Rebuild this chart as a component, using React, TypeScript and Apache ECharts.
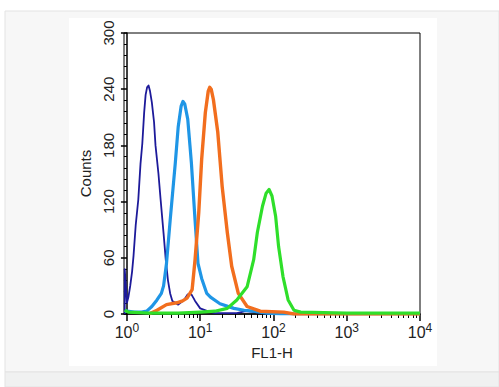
import React, { useEffect, useRef } from "react";
import * as echarts from "echarts";

// x values are log10(FL1-H), y values are counts
const navySeries: number[][] = [
  [-0.03, 0], [-0.03, 48], [-0.015, 30], [0.0, 12], [0.02, 18], [0.045, 30], [0.07, 45],
  [0.09, 62], [0.12, 95], [0.155, 122], [0.185, 160], [0.21, 182], [0.235, 215], [0.255, 234],
  [0.275, 242], [0.295, 244], [0.315, 238], [0.34, 226], [0.37, 205], [0.39, 180],
  [0.43, 150], [0.46, 122], [0.5, 86], [0.53, 58], [0.56, 36], [0.59, 22], [0.62, 14],
  [0.7, 10], [0.78, 15], [0.83, 21], [0.88, 21], [0.93, 14], [1.0, 6], [1.1, 3], [1.2, 1],
  [1.5, 1], [1.62, 3], [1.75, 2], [1.85, 1], [2.0, 0], [4.0, 0],
];
const lightBlueSeries: number[][] = [
  [-0.03, 4], [0.0, 3], [0.1, 2], [0.2, 2], [0.27, 3], [0.34, 8], [0.41, 15], [0.47, 22],
  [0.5, 30], [0.54, 54], [0.59, 100], [0.63, 135], [0.66, 161], [0.7, 200], [0.74, 222],
  [0.765, 227], [0.79, 224], [0.83, 208], [0.86, 180], [0.88, 161], [0.93, 100],
  [0.97, 54], [1.02, 38], [1.09, 22], [1.14, 18], [1.27, 11], [1.46, 6], [1.6, 4],
  [1.73, 3], [1.91, 1], [2.1, 0], [4.0, 0],
];
const orangeSeries: number[][] = [
  [0.3, 0], [0.41, 4], [0.54, 10], [0.68, 12], [0.76, 14], [0.82, 17], [0.89, 26],
  [0.93, 58], [0.98, 108], [1.02, 165], [1.07, 215], [1.11, 238], [1.13, 242], [1.15, 240],
  [1.18, 229], [1.24, 194], [1.3, 136], [1.37, 87], [1.43, 51], [1.52, 22], [1.64, 8],
  [1.82, 3], [2.14, 2], [2.28, 0], [4.0, 0],
];
const greenSeries: number[][] = [
  [-0.03, 4], [0.02, 2], [0.3, 1], [0.7, 1], [1.0, 2], [1.2, 3], [1.37, 6], [1.5, 15],
  [1.64, 29], [1.73, 58], [1.78, 87], [1.85, 115], [1.9, 129], [1.94, 133], [1.98, 126],
  [2.03, 104], [2.07, 72], [2.13, 40], [2.2, 15], [2.28, 4], [2.37, 2], [3.0, 1], [4.0, 1],
];

const xMajorTicks = [0, 1, 2, 3, 4];
const yTicks = [0, 60, 120, 180, 240, 300];

const xMinorTicks: number[] = [];
xMajorTicks.slice(0, -1).forEach((d) => {
  for (let k = 2; k <= 9; k++) xMinorTicks.push(d + Math.log10(k));
});

export default function App() {
  const ref = useRef<HTMLDivElement>(null);
  useEffect(() => {
    document.body.style.margin = "0";
    const chart = echarts.init(ref.current!, null, { renderer: "svg" });
    const font = "'Liberation Sans', Arial, sans-serif";
    const lineSeries = (name: string, data: number[][], color: string, width: number) => ({
      name,
      type: "line",
      data,
      symbol: "none",
      lineStyle: { color, width, join: "round" },
      z: 3,
    });
    chart.setOption({
      animation: false,
      textStyle: { fontFamily: font },
      graphic: [
        { type: "rect", z: -10, shape: { x: 0, y: 0, width: 499, height: 387 }, style: { fill: "#ffffff" } },
        { type: "rect", z: -9, shape: { x: 5, y: 11, width: 494, height: 361 }, style: { fill: "#f7f7f7", stroke: "#e3e3e3", lineWidth: 1 } },
        { type: "rect", z: -9, shape: { x: 5, y: 372, width: 494, height: 15 }, style: { fill: "#f0f1f1", stroke: "#e3e3e3", lineWidth: 1 } },
        { type: "rect", z: -8, shape: { x: 69, y: 18, width: 368, height: 348 }, style: { fill: "#ffffff" } },
      ],
      grid: {
        left: 124,
        right: 79,
        top: 33,
        bottom: 73,
        show: true,
        borderColor: "#000",
        borderWidth: 1,
        backgroundColor: "transparent",
      },
      xAxis: [
        {
          type: "value",
          min: -0.04,
          max: 4,
          name: "FL1-H",
          nameLocation: "middle",
          nameGap: 26,
          nameTextStyle: { fontSize: 15, color: "#222", fontFamily: font },
          axisLine: { lineStyle: { color: "#000", width: 1.5 } },
          axisTick: { show: true, customValues: xMajorTicks, length: 7, lineStyle: { color: "#000", width: 1.5 } },
          axisLabel: {
            customValues: xMajorTicks,
            margin: 8,
            formatter: (v: number) => `{b|10}{s|${Math.round(v)}}`,
            rich: {
              b: { fontSize: 16, color: "#222", fontFamily: font },
              s: { fontSize: 12, color: "#222", fontFamily: font, verticalAlign: "bottom", padding: [0, 0, 9, 0] },
            },
          },
          splitLine: { show: false },
        },
        {
          type: "value",
          min: -0.04,
          max: 4,
          position: "bottom",
          axisLine: { show: false },
          axisTick: { show: true, customValues: xMinorTicks, length: 4, lineStyle: { color: "#000", width: 1 } },
          axisLabel: { show: false },
          splitLine: { show: false },
        },
      ],
      yAxis: {
        type: "value",
        min: 0,
        max: 300,
        interval: 60,
        name: "Counts",
        nameLocation: "middle",
        nameGap: 25,
        nameRotate: 90,
        nameTextStyle: { fontSize: 15, color: "#222", fontFamily: font },
        axisLine: { show: true, lineStyle: { color: "#000", width: 1.5 } },
        axisTick: { show: true, length: 6, lineStyle: { color: "#000", width: 1.5 } },
        minorTick: { show: true, splitNumber: 5, length: 3, lineStyle: { color: "#000", width: 1 } },
        axisLabel: {
          rotate: 90,
          fontSize: 15,
          color: "#222",
          margin: 8,
          fontFamily: font,
          customValues: yTicks,
        },
        splitLine: { show: false },
      },
      series: [
        lineSeries("navy", navySeries, "#1d1a9a", 1.8),
        lineSeries("lightblue", lightBlueSeries, "#1f96e6", 3.2),
        lineSeries("orange", orangeSeries, "#f26e1e", 3.4),
        lineSeries("green", greenSeries, "#2fdf2a", 3.2),
      ],
    });
    return () => chart.dispose();
  }, []);
  return <div ref={ref} style={{ width: 499, height: 387 }} />;
}
